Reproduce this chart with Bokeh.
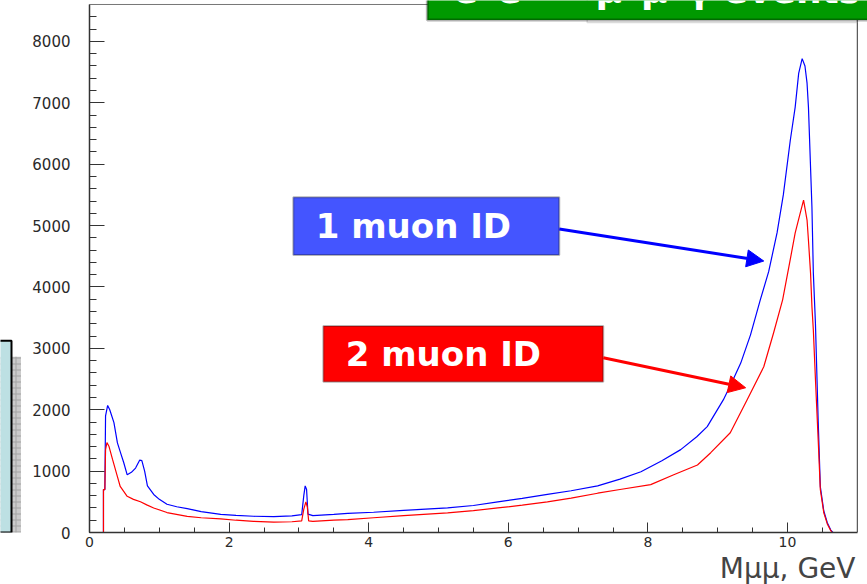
from bokeh.plotting import figure
from bokeh.layouts import row
from bokeh.models import Range1d, BoxAnnotation, Label, Arrow, NormalHead, FixedTicker, Span, Title
from bokeh.embed import file_html
from bokeh.resources import INLINE

# ---- data (M_mumu in GeV, events per bin) ----
mass_blue = [0.20, 0.20, 0.22, 0.23, 0.26, 0.29, 0.35, 0.40, 0.45, 0.49, 0.54, 0.60, 0.66,
             0.72, 0.75, 0.79, 0.83, 0.92, 1.00, 1.11, 1.25, 1.40, 1.60, 1.88, 2.10, 2.35,
             2.64, 2.90, 3.04, 3.07, 3.09, 3.11, 3.13, 3.20, 3.50, 3.70, 4.07, 4.50, 5.13,
             5.50, 5.85, 6.20, 6.56, 6.90, 7.28, 7.60, 7.90, 8.20, 8.47, 8.70, 8.85, 9.08,
             9.20, 9.33, 9.47, 9.61, 9.73, 9.85, 9.94, 10.04, 10.11, 10.16, 10.21, 10.25,
             10.28, 10.30, 10.33, 10.35, 10.37, 10.40, 10.44, 10.47, 10.52, 10.57, 10.62, 10.65]
counts_blue = [0, 700, 700, 1900, 2070, 2000, 1790, 1460, 1280, 1140, 940, 980, 1050,
               1180, 1170, 1000, 760, 620, 540, 460, 420, 390, 340, 295, 280, 265,
               258, 270, 290, 600, 760, 700, 300, 275, 295, 310, 330, 360, 400,
               440, 500, 555, 620, 680, 760, 870, 990, 1170, 1350, 1560, 1725, 2160,
               2440, 2760, 3220, 3790, 4250, 4880, 5500, 6390, 6930, 7480, 7720, 7600,
               7320, 6930, 5950, 5300, 4230, 3410, 1800, 750, 350, 160, 40, 0]

mass_red = [0.20, 0.20, 0.22, 0.23, 0.25, 0.28, 0.33, 0.40, 0.44, 0.54, 0.63, 0.73, 0.82,
            0.92, 1.11, 1.40, 1.60, 1.88, 2.10, 2.35, 2.64, 2.90, 3.04, 3.07, 3.10, 3.12,
            3.14, 3.20, 3.50, 3.70, 4.07, 4.50, 5.13, 5.50, 5.85, 6.20, 6.56, 6.90, 7.28,
            7.60, 8.04, 8.37, 8.71, 8.90, 9.18, 9.42, 9.66, 9.80, 9.93, 10.02, 10.11, 10.17,
            10.23, 10.28, 10.30, 10.33, 10.35, 10.37, 10.40, 10.44, 10.47, 10.52, 10.57,
            10.62, 10.64]
counts_red = [0, 700, 700, 1350, 1465, 1400, 1190, 910, 750, 590, 540, 500, 450,
              400, 325, 262, 240, 222, 200, 182, 168, 175, 190, 380, 500, 420,
              190, 182, 200, 210, 240, 275, 320, 355, 400, 445, 500, 560, 640,
              700, 780, 940, 1100, 1300, 1625, 2160, 2700, 3250, 3790, 4330, 4880, 5150,
              5415, 5090, 4760, 4230, 3680, 3300, 2500, 1500, 700, 320, 140,
              30, 0]

x_major = [0, 2, 4, 6, 8, 10]
x_minor = [0.5 * i for i in range(22)]
y_major = [0, 1000, 2000, 3000, 4000, 5000, 6000, 7000, 8000]
y_minor = [200 * i for i in range(44)]

label_one = "1 muon ID"
label_two = "2 muon ID"
banner = "e\u207ae\u207b \u2192 \u03bc\u207a\u03bc\u207b\u03b3 events"
axis_title = "M\u03bc\u03bc, GeV"

# ---- narrow strip with the slide decorations at the far left (pixel units) ----
strip = figure(width=21, height=584, x_range=Range1d(0, 21), y_range=Range1d(533, 0),
               output_backend="svg", toolbar_location=None, min_border=0,
               x_axis_type=None, y_axis_type=None)
strip.outline_line_color = None
strip.background_fill_color = "white"
strip.border_fill_color = "white"
strip.quad(left=[0], right=[21], top=[357], bottom=[560], fill_color="#cbcbcb",
           line_alpha=0, hatch_pattern="+", hatch_color="#a3a3a3", hatch_scale=6,
           hatch_weight=1)
strip.quad(left=[-5], right=[11], top=[341], bottom=[533], fill_color="#bde0e3",
           line_color="black", line_width=2)

# ---- main histogram ----
p = figure(width=846, height=584, x_range=Range1d(0, 11.146), y_range=Range1d(0, 8667),
           output_backend="svg", toolbar_location=None,
           min_border_left=68, min_border_right=0, min_border_top=0, min_border_bottom=51)
p.background_fill_color = "white"
p.border_fill_color = "white"
p.grid.visible = False
p.outline_line_color = None

for ax in (p.xaxis[0], p.yaxis[0]):
    ax.axis_line_color = "#333333"
    ax.axis_line_width = 1.5
    ax.major_tick_line_color = "#333333"
    ax.minor_tick_line_color = "#333333"
    ax.major_tick_out = 0
    ax.minor_tick_out = 0
    ax.major_label_text_font = "DejaVu Sans"
    ax.major_label_text_color = "#2a2a2a"

p.xaxis.ticker = FixedTicker(ticks=x_major, minor_ticks=x_minor)
p.yaxis.ticker = FixedTicker(ticks=y_major, minor_ticks=y_minor)
p.xaxis.bounds = (0, 11.0)
p.yaxis.bounds = (0, 8602)
p.xaxis.major_label_text_font_size = "14px"
p.yaxis.major_label_text_font_size = "15px"
p.xaxis.major_tick_in = 10
p.xaxis.minor_tick_in = 5
p.yaxis.major_tick_in = 15
p.yaxis.minor_tick_in = 7
p.xaxis.major_label_standoff = 4
p.yaxis.major_label_standoff = 19

p.add_layout(Title(text=axis_title, align="right", offset=12, standoff=0,
                   text_font="DejaVu Sans", text_font_style="normal",
                   text_font_size="28px", text_color="#444444"), "below")

# frame edges (top and right)
p.add_layout(Span(location=8602, dimension="width", line_color="#777777", line_width=1))
p.add_layout(Span(location=11.0, dimension="height", line_color="#333333", line_width=1))

p.line(mass_blue, counts_blue, line_color="#0000ff", line_width=1.2)
p.line(mass_red, counts_red, line_color="#ff0000", line_width=1.2)

# stats-box edge and green banner at the top
p.add_layout(BoxAnnotation(left=7.13, right=11.0, bottom=8309, top=9200,
                           fill_alpha=0, line_color="#888888", line_width=1.5))
p.add_layout(BoxAnnotation(left=4.84, right=11.4, bottom=8350, top=9300,
                           fill_color="#009900", fill_alpha=1, line_color="black", line_width=3))
p.add_layout(Label(x=5.215, y=8825, text=banner, text_color="white",
                   text_font="DejaVu Sans", text_font_style="bold", text_font_size="36px",
                   text_baseline="alphabetic"))

# callouts
p.add_layout(BoxAnnotation(left=2.92, right=6.73, bottom=4520, top=5463,
                           fill_color="#4455ff", fill_alpha=1, line_color="#111111", line_width=2))
p.add_layout(Label(x=3.24, y=4992, text=label_one, text_color="white",
                   text_font="DejaVu Sans", text_font_style="bold", text_font_size="34px",
                   text_baseline="alphabetic"))
p.add_layout(BoxAnnotation(left=3.35, right=7.36, bottom=2455, top=3366,
                           fill_color="#ff0000", fill_alpha=1, line_color="#111111", line_width=2))
p.add_layout(Label(x=3.67, y=2910, text=label_two, text_color="white",
                   text_font="DejaVu Sans", text_font_style="bold", text_font_size="34px",
                   text_baseline="alphabetic"))

p.add_layout(Arrow(end=NormalHead(size=17, fill_color="#0000ff", line_color="#0000ff"),
                   x_start=6.73, y_start=4943, x_end=9.66, y_end=4423,
                   line_color="#0000ff", line_width=3))
p.add_layout(Arrow(end=NormalHead(size=17, fill_color="#ff0000", line_color="#ff0000"),
                   x_start=7.36, y_start=2846, x_end=9.40, y_end=2358,
                   line_color="#ff0000", line_width=3))

layout = row(strip, p)
open("out.html", "w").write(file_html(layout, INLINE))
